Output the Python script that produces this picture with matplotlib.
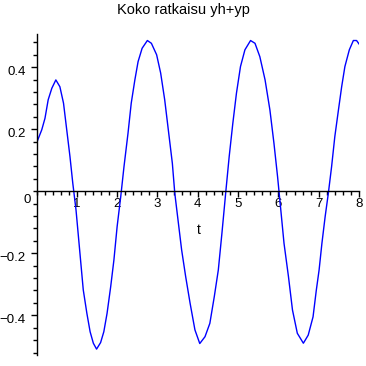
import numpy as np
import matplotlib
matplotlib.use('Agg')
import matplotlib.pyplot as plt
from matplotlib.ticker import MultipleLocator
import matplotlib.transforms as mtransforms

plt.rcParams['font.family'] = ['Liberation Sans', 'DejaVu Sans']

# curve (t, y)
t = [0.00, 0.13, 0.21, 0.29, 0.38, 0.48, 0.58, 0.67, 0.75, 0.83,
     0.90, 0.98, 1.04, 1.10, 1.16, 1.25, 1.33, 1.41, 1.49, 1.59,
     1.67, 1.75, 1.84, 1.92, 2.00, 2.09, 2.17, 2.27, 2.35, 2.44,
     2.52, 2.62, 2.75, 2.85, 2.98, 3.08, 3.18, 3.28, 3.37, 3.43,
     3.52, 3.60, 3.70, 3.81, 3.93, 4.05, 4.18, 4.30, 4.41, 4.51,
     4.60, 4.70, 4.78, 4.87, 4.96, 5.06, 5.17, 5.31, 5.42, 5.54,
     5.67, 5.79, 5.89, 5.98, 6.06, 6.14, 6.25, 6.35, 6.47, 6.62,
     6.74, 6.86, 6.94, 7.01, 7.08, 7.16, 7.24, 7.32, 7.40, 7.49,
     7.57, 7.65, 7.76, 7.86, 7.94, 8.00]
y = [0.155, 0.198, 0.235, 0.295, 0.332, 0.359, 0.337, 0.284, 0.198, 0.112,
     0.026, -0.060, -0.146, -0.232, -0.318, -0.394, -0.453, -0.490, -0.509, -0.488,
     -0.453, -0.394, -0.308, -0.222, -0.114, -0.017, 0.079, 0.187, 0.284, 0.359,
     0.418, 0.461, 0.486, 0.477, 0.440, 0.381, 0.295, 0.187, 0.090, -0.006,
     -0.103, -0.189, -0.275, -0.361, -0.447, -0.491, -0.469, -0.426, -0.340, -0.254,
     -0.135, 0.004, 0.112, 0.219, 0.316, 0.402, 0.456, 0.486, 0.477, 0.434,
     0.359, 0.262, 0.155, 0.047, -0.060, -0.168, -0.275, -0.383, -0.458, -0.490,
     -0.464, -0.405, -0.320, -0.254, -0.168, -0.082, -0.006, 0.079, 0.176, 0.262,
     0.337, 0.402, 0.456, 0.486, 0.486, 0.475]

xticks = [1, 2, 3, 4, 5, 6, 7, 8]
yticks = [-0.4, -0.2, 0.2, 0.4]
ylabels = ['\u22120.4', '\u22120.2', '0.2', '0.4']

W = 366
fig = plt.figure(figsize=(3.66, 3.66), dpi=100)
ax = fig.add_axes([36.5 / W, 11 / W, 322.5 / W, 321 / W])

ax.plot(t, y, color='#0000ff', lw=1.0)

ax.set_xlim(0, 8)
ax.set_ylim(-0.528, 0.507)

ax.spines['top'].set_visible(False)
ax.spines['right'].set_visible(False)
ax.spines['bottom'].set_position(('data', 0))
for s in ['left', 'bottom']:
    ax.spines[s].set_linewidth(1.0)

ax.set_xticks(xticks)
ax.set_xticklabels([str(v) for v in xticks])
ax.xaxis.set_minor_locator(MultipleLocator(0.2))
ax.set_yticks(yticks)
ax.set_yticklabels(ylabels)
ax.yaxis.set_minor_locator(MultipleLocator(0.04))

ax.tick_params(which='both', direction='out', width=1.0, labelsize=9.5, colors='black')
ax.tick_params(which='major', length=4)
ax.tick_params(which='minor', length=3)
ax.tick_params(axis='x', pad=1)
ax.tick_params(axis='y', pad=4)

# Maple puts the y labels a touch below their ticks
off = mtransforms.ScaledTranslation(0, -3 / 100, fig.dpi_scale_trans)
for lab in ax.get_yticklabels():
    lab.set_transform(lab.get_transform() + off)

ax.text(-0.24, -0.028, '0', fontsize=9.5, ha='center', va='center', clip_on=False)
ax.text(4.03, -0.125, 't', fontsize=10, ha='center', va='center')

fig.text(0.5, 1 - 10 / W, 'Koko ratkaisu yh+yp', fontsize=10.5, ha='center', va='center')

fig.savefig('out.png', dpi=100)
